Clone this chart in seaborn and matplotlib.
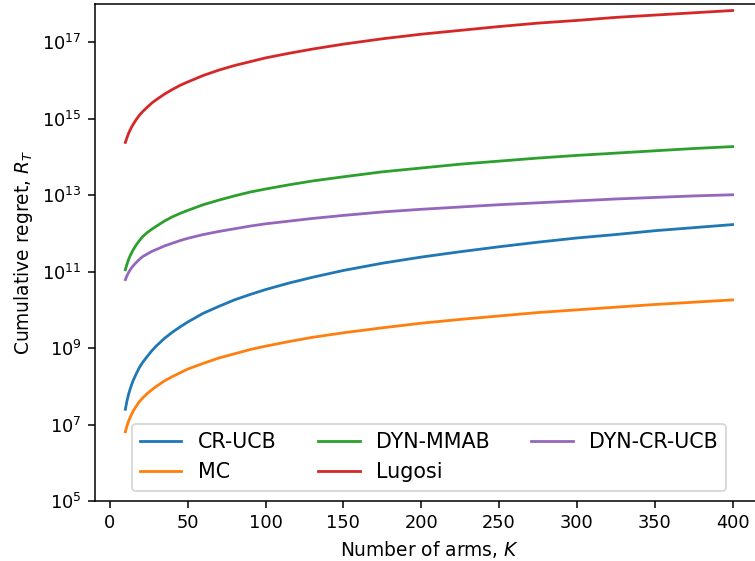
import numpy as np
import pandas as pd
import matplotlib
matplotlib.use("Agg")
import matplotlib.pyplot as plt
import seaborn as sns
from matplotlib.ticker import FixedLocator, NullLocator

# Number of arms (x positions where the curves were read)
K = [10, 11, 12, 13, 14, 15, 17, 19, 21, 24, 27, 30, 35, 40, 45, 50, 60, 70, 80,
     90, 100, 115, 130, 150, 175, 200, 225, 250, 275, 300, 325, 350, 375, 400]

series_names = ["CR-UCB", "MC", "DYN-MMAB", "Lugosi", "DYN-CR-UCB"]

# log10 of cumulative regret
cr_ucb_log10 = [7.40, 7.61, 7.78, 7.92, 8.04, 8.15, 8.33, 8.49, 8.62, 8.78, 8.93, 9.06,
                9.25, 9.41, 9.55, 9.68, 9.91, 10.09, 10.26, 10.40, 10.53, 10.70, 10.85,
                11.03, 11.22, 11.38, 11.52, 11.65, 11.77, 11.88, 11.97, 12.07, 12.15, 12.23]
mc_log10 = [6.81, 6.96, 7.08, 7.18, 7.27, 7.35, 7.48, 7.60, 7.69, 7.81, 7.91, 8.00,
            8.14, 8.25, 8.35, 8.45, 8.60, 8.74, 8.85, 8.96, 9.05, 9.17, 9.28,
            9.40, 9.53, 9.65, 9.75, 9.84, 9.93, 10.00, 10.07, 10.14, 10.20, 10.26]
dyn_mmab_log10 = [11.05, 11.19, 11.31, 11.41, 11.49, 11.57, 11.70, 11.81, 11.91, 12.02, 12.11, 12.19,
                  12.32, 12.43, 12.52, 12.60, 12.75, 12.87, 12.98, 13.08, 13.16, 13.27, 13.37,
                  13.48, 13.61, 13.71, 13.81, 13.89, 13.97, 14.04, 14.10, 14.16, 14.22, 14.27]
lugosi_log10 = [14.38, 14.50, 14.61, 14.70, 14.78, 14.85, 14.98, 15.09, 15.18, 15.30, 15.41, 15.50,
                15.64, 15.76, 15.87, 15.96, 16.13, 16.27, 16.39, 16.49, 16.59, 16.71, 16.82,
                16.95, 17.09, 17.21, 17.31, 17.41, 17.50, 17.57, 17.65, 17.71, 17.77, 17.83]
dyn_cr_ucb_log10 = [10.79, 10.89, 10.97, 11.04, 11.10, 11.15, 11.24, 11.32, 11.39, 11.46, 11.53, 11.58,
                    11.67, 11.74, 11.81, 11.87, 11.97, 12.05, 12.12, 12.19, 12.25, 12.32, 12.39,
                    12.47, 12.56, 12.63, 12.69, 12.75, 12.80, 12.85, 12.90, 12.94, 12.98, 13.01]

x_ticks = [0, 50, 100, 150, 200, 250, 300, 350, 400]
y_ticks = [1e5, 1e7, 1e9, 1e11, 1e13, 1e15, 1e17]

colors = ["#1f77b4", "#ff7f0e", "#2ca02c", "#d62728", "#9467bd"]

all_series = [cr_ucb_log10, mc_log10, dyn_mmab_log10, lugosi_log10, dyn_cr_ucb_log10]
rows = []
for name, exps in zip(series_names, all_series):
    for k, e in zip(K, exps):
        rows.append({"K": k, "regret": np.power(10.0, e), "algo": name})
df = pd.DataFrame(rows)

plt.rcParams["axes.linewidth"] = 1.1

fig = plt.figure(figsize=(7.55, 5.61), dpi=100)
ax = fig.add_axes([95 / 755, 60 / 561, 668 / 755, 497 / 561])

sns.lineplot(data=df, x="K", y="regret", hue="algo", hue_order=series_names,
             palette=colors, linewidth=2.0, ax=ax, estimator=None, sort=True)

ax.set_yscale("log")
ax.set_ylim(1e5, 1e18)
ax.yaxis.set_major_locator(FixedLocator(y_ticks))
ax.yaxis.set_minor_locator(NullLocator())
ax.set_xticks(x_ticks)
ax.set_xlim(-9.5, 419.5)
ax.tick_params(which="major", labelsize=12.8, length=4.8, width=1.1, pad=4.8)
ax.set_xlabel("Number of arms, $K$", fontsize=13.4, labelpad=5)
ax.set_ylabel("Cumulative regret, $R_T$", fontsize=13.4, labelpad=5)

handles, labels = ax.get_legend_handles_labels()
leg = ax.legend(handles, labels, ncol=3, loc="lower center", fontsize=14.9)
leg.get_frame().set_linewidth(1.3)

fig.savefig("out.png", dpi=100)
